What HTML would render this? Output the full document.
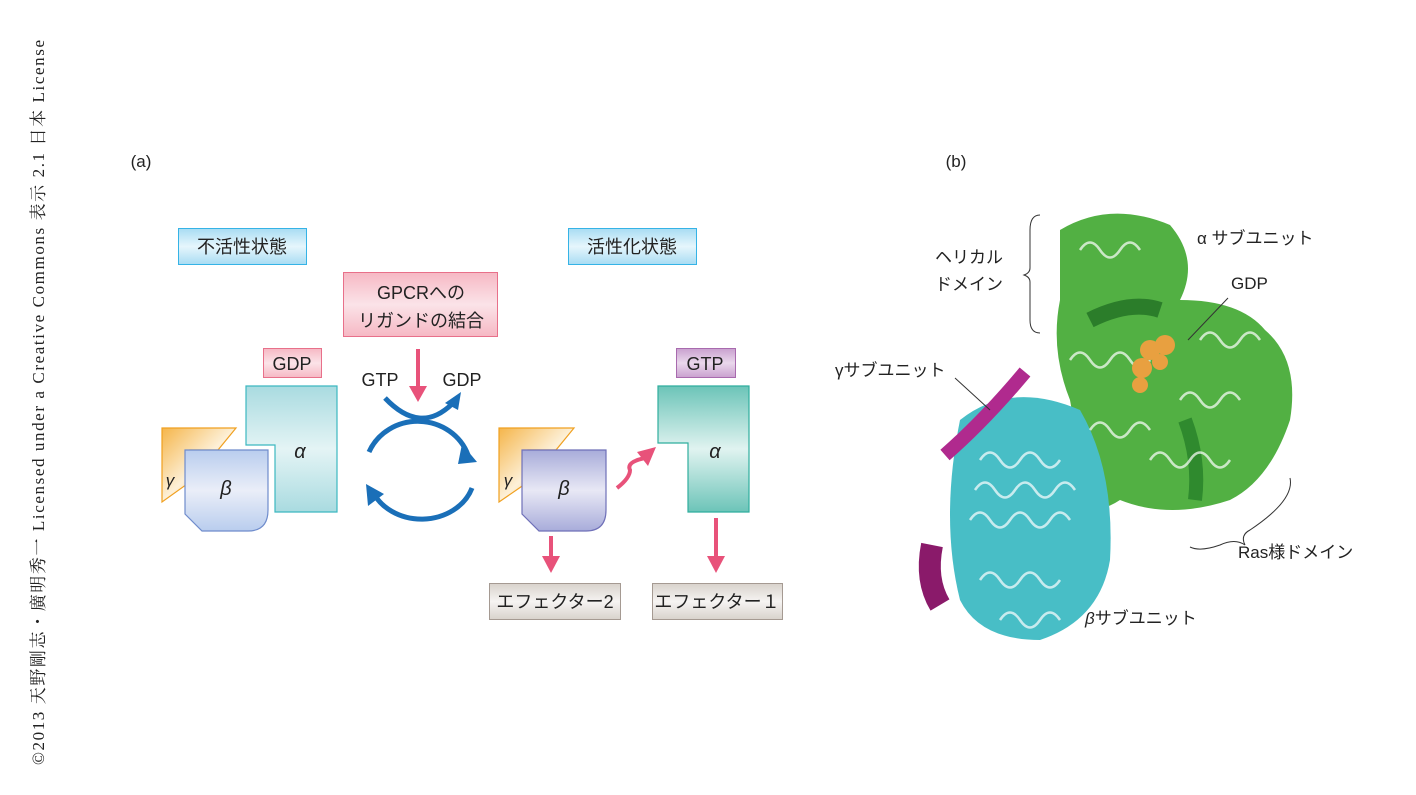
<!DOCTYPE html>
<html><head><meta charset="utf-8"><style>
body{margin:0;width:1416px;height:795px;background:#fff;overflow:hidden;position:relative;font-family:"Liberation Sans","Noto Sans CJK JP",sans-serif}
</style></head><body>
<svg width="1416" height="795" style="position:absolute;left:0;top:0" font-family="Liberation Sans, Noto Sans CJK JP, sans-serif">
<defs>
<linearGradient id="bl" x1="0" y1="0" x2="0" y2="1"><stop offset="0" stop-color="#a8dcf3"/><stop offset=".5" stop-color="#e6f6fc"/><stop offset="1" stop-color="#a8dcf3"/></linearGradient>
<linearGradient id="pk" x1="0" y1="0" x2="0" y2="1"><stop offset="0" stop-color="#f6b8c4"/><stop offset=".5" stop-color="#fbe3e8"/><stop offset="1" stop-color="#f6b8c4"/></linearGradient>
<linearGradient id="pu" x1="0" y1="0" x2="0" y2="1"><stop offset="0" stop-color="#c9a0cf"/><stop offset=".5" stop-color="#ead8ec"/><stop offset="1" stop-color="#c9a0cf"/></linearGradient>
<linearGradient id="gr" x1="0" y1="0" x2="0" y2="1"><stop offset="0" stop-color="#d8d2cc"/><stop offset=".5" stop-color="#f6f4f2"/><stop offset="1" stop-color="#d8d2cc"/></linearGradient>
<linearGradient id="a1" x1="0" y1="0" x2="0" y2="1"><stop offset="0" stop-color="#a9dbe0"/><stop offset=".5" stop-color="#e4f4f5"/><stop offset="1" stop-color="#a9dbe0"/></linearGradient>
<linearGradient id="a2" x1="0" y1="0" x2="0" y2="1"><stop offset="0" stop-color="#6cc4b8"/><stop offset=".5" stop-color="#e0f3f0"/><stop offset="1" stop-color="#6cc4b8"/></linearGradient>
<linearGradient id="b1" x1="0" y1="0" x2="0" y2="1"><stop offset="0" stop-color="#b9cdee"/><stop offset=".5" stop-color="#eaeef8"/><stop offset="1" stop-color="#b9cdee"/></linearGradient>
<linearGradient id="b2" x1="0" y1="0" x2="0" y2="1"><stop offset="0" stop-color="#a8acda"/><stop offset=".5" stop-color="#e8e8f5"/><stop offset="1" stop-color="#a8acda"/></linearGradient>
<linearGradient id="y1" x1="0" y1="0" x2="1" y2="1"><stop offset="0" stop-color="#f5b54a"/><stop offset=".5" stop-color="#fdf0d8"/><stop offset="1" stop-color="#f5b54a"/></linearGradient>
</defs>
<rect x="178.5" y="228.5" width="128" height="36" fill="url(#bl)" stroke="#35b3e6"/>
<rect x="568.5" y="228.5" width="128" height="36" fill="url(#bl)" stroke="#35b3e6"/>
<rect x="343.5" y="272.5" width="154" height="64" fill="url(#pk)" stroke="#e8708a"/>
<rect x="263.5" y="348.5" width="58" height="29" fill="url(#pk)" stroke="#e8708a"/>
<rect x="676.5" y="348.5" width="59" height="29" fill="url(#pu)" stroke="#a86aae"/>
<rect x="489.5" y="583.5" width="131" height="36" fill="url(#gr)" stroke="#a59a92"/>
<rect x="652.5" y="583.5" width="130" height="36" fill="url(#gr)" stroke="#a59a92"/>
<g font-size="18" fill="#222" text-anchor="middle">
<text x="242" y="253">不活性状態</text><text x="632" y="253">活性化状態</text>
<text x="421" y="299">GPCRへの</text><text x="421" y="327">リガンドの結合</text>
<text x="292" y="370">GDP</text><text x="705" y="370">GTP</text>
<text x="380" y="386">GTP</text><text x="462" y="386">GDP</text>
<text x="555" y="608">エフェクター2</text><text x="717" y="608">エフェクター１</text>
<text x="141" y="167" font-size="17">(a)</text><text x="956" y="167" font-size="17">(b)</text>
</g>
<path d="M246,386 H337 V512 H275 V445 H246 Z" fill="url(#a1)" stroke="#3cb8c0" stroke-width="1.2"/>
<path d="M162,428 H236 L218,450 H190 V482 L162,502 Z" fill="url(#y1)" stroke="#f0a020" stroke-width="1.2"/>
<path d="M185,450 H268 V510 Q268,531 248,531 H202 L185,514 Z" fill="url(#b1)" stroke="#6f8ccc" stroke-width="1.2"/>
<path d="M658,386 H749 V512 H688 V443 H658 Z" fill="url(#a2)" stroke="#2fae9e" stroke-width="1.2"/>
<path d="M499,428 H574 L556,450 H528 V482 L499,502 Z" fill="url(#y1)" stroke="#f0a020" stroke-width="1.2"/>
<path d="M522,450 H606 V510 Q606,531 586,531 H539 L522,514 Z" fill="url(#b2)" stroke="#6f70b8" stroke-width="1.2"/>
<g font-size="20" font-style="italic" fill="#222" text-anchor="middle">
<text x="300" y="458">α</text><text x="715" y="458">α</text>
<text x="226" y="495">β</text><text x="564" y="495">β</text>
<text x="170" y="486" font-size="17">γ</text><text x="508" y="486" font-size="17">γ</text>
</g>
<g fill="none" stroke="#1a6fb8" stroke-width="5">
<path d="M369,452 A53,50 0 0 1 468,455"/>
<path d="M472,488 A53,45 0 0 1 372,490"/>
<path d="M385,398 Q420,435 452,404"/>
</g>
<path d="M462,444 L477,462 L458,464 Z" fill="#1a6fb8"/>
<path d="M366,484 L368,506 L384,494 Z" fill="#1a6fb8"/>
<path d="M445,403 L461,392 L458,410 Z" fill="#1a6fb8"/>
<g stroke="#e8527a" stroke-width="4" fill="none">
<line x1="418" y1="349" x2="418" y2="390"/>
<path d="M617,488 Q630,478 630,470 Q626,462 645,458"/>
<line x1="551" y1="536" x2="551" y2="560"/>
<line x1="716" y1="518" x2="716" y2="560"/>
</g>
<path d="M418,402 L409,386 L427,386 Z" fill="#e8527a"/>
<path d="M656,447 L637,452 L648,466 Z" fill="#e8527a"/>
<path d="M551,573 L542,556 L560,556 Z" fill="#e8527a"/>
<path d="M716,573 L707,556 L725,556 Z" fill="#e8527a"/>
<g>
<path d="M1060,230 Q1110,200 1170,225 Q1200,260 1180,300 Q1240,300 1265,330 Q1300,360 1290,420 Q1270,480 1230,500 Q1170,520 1120,500 Q1090,520 1060,500 Q1080,450 1070,400 Q1050,350 1060,300 Z" fill="#52b043"/>
<path d="M960,420 Q1010,380 1080,410 Q1115,470 1110,560 Q1100,620 1040,640 Q980,640 960,600 Q940,520 960,420 Z" fill="#48bec6"/>
<path d="M1090,320 Q1130,300 1160,310" stroke="#2b7d2a" stroke-width="16" fill="none"/>
<path d="M1185,420 Q1200,460 1195,500" stroke="#2f8a2e" stroke-width="14" fill="none"/>
<path d="M945,455 Q985,420 1025,372" stroke="#b02a8e" stroke-width="14" fill="none"/>
<path d="M932,545 Q925,580 940,605" stroke="#8a1a6a" stroke-width="22" fill="none"/>
<g stroke="#fff" stroke-width="2.5" fill="none" opacity="0.7">
<path d="M1080,250 q10,-15 20,0 t20,0 t20,0"/><path d="M1070,360 q10,-15 20,0 t20,0 t20,0 t20,0"/><path d="M1180,400 q10,-15 20,0 t20,0 t20,0"/><path d="M1150,460 q10,-15 20,0 t20,0 t20,0 t20,0"/><path d="M1200,340 q10,-15 20,0 t20,0 t20,0"/><path d="M1090,430 q10,-15 20,0 t20,0 t20,0"/>
<path d="M980,460 q10,-15 20,0 t20,0 t20,0 t20,0"/><path d="M970,520 q10,-15 20,0 t20,0 t20,0 t20,0 t20,0"/><path d="M980,580 q10,-15 20,0 t20,0 t20,0 t20,0"/><path d="M1000,620 q10,-15 20,0 t20,0 t20,0"/><path d="M975,490 q10,-15 20,0 t20,0 t20,0 t20,0 t20,0"/>
</g>
<g fill="#e8a040"><circle cx="1150" cy="350" r="10"/><circle cx="1165" cy="345" r="10"/><circle cx="1142" cy="368" r="10"/><circle cx="1160" cy="362" r="8"/><circle cx="1140" cy="385" r="8"/></g>
</g>
<g fill="none" stroke="#333" stroke-width="1">
<path d="M1040,215 Q1030,215 1030,230 V268 Q1030,273 1024,275 Q1030,277 1030,282 V320 Q1030,333 1040,333"/>
<path d="M1290,478 Q1295,500 1250,530 Q1240,535 1245,545 Q1235,538 1220,545 Q1200,552 1190,547"/>
<line x1="955" y1="378" x2="990" y2="410"/><line x1="1228" y1="298" x2="1188" y2="340"/>
</g>
<g font-size="17" fill="#222">
<text x="1197" y="244">α サブユニット</text><text x="1231" y="289">GDP</text>
<text x="935" y="263">ヘリカル</text><text x="935" y="290">ドメイン</text>
<text x="835" y="376">γサブユニット</text><text x="1238" y="558">Ras様ドメイン</text>
<text x="1085" y="624"><tspan font-style="italic">β</tspan>サブユニット</text>
</g>
<text transform="translate(44,765) rotate(-90)" font-family="Liberation Serif, Noto Serif CJK SC, serif" font-size="17" fill="#222" textLength="725">©2013 天野剛志・廣明秀一 Licensed under a Creative Commons 表示 2.1 日本 License</text>
</svg>
</body></html>
